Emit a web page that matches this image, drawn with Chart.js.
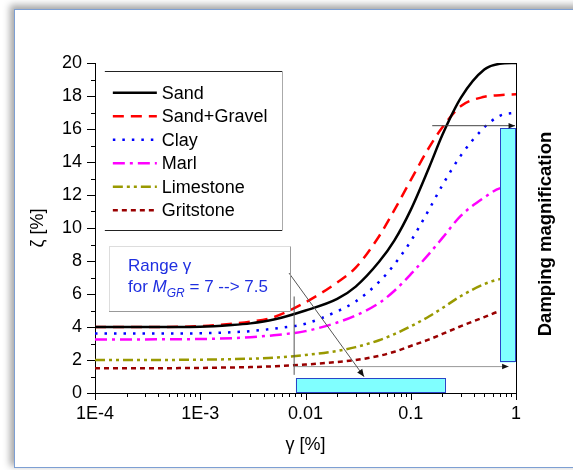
<!DOCTYPE html>
<html>
<head>
<meta charset="utf-8">
<script src="https://cdn.jsdelivr.net/npm/chart.js@4/dist/chart.umd.min.js"></script>
<style>
html, body { margin: 0; padding: 0; background: #fff; overflow: hidden; }
#frame { position: absolute; left: 14px; top: 9px; width: 620px; height: 457px;
         border: 1px solid #7d9fd3; border-right: none;
         box-shadow: -3px -3px 7px 1px rgba(0,0,0,0.35); background: #fff; }
#damping-graph { position: absolute; left: 0; top: 0; }
</style>
</head>
<body>
<div id="frame"></div>
<canvas id="damping-graph" width="573" height="470"></canvas>
<script>
// shear strain in %, sampled where the curves were read
const strainPoints = [1e-4, 3e-4, 1e-3, 2e-3, 3e-3, 5e-3, 0.01, 0.02, 0.03, 0.05, 0.07, 0.1, 0.15, 0.2, 0.3, 0.5, 0.7, 1]

const soilNames = ["Sand", "Sand+Gravel", "Clay", "Marl", "Limestone", "Gritstone"]
const sand      = [4.0, 4.0, 4.02, 4.12, 4.22, 4.45, 5.0, 5.7, 6.45, 7.95, 9.25, 11.1, 13.7, 15.65, 17.9, 19.6, 19.95, 20.0]
const sandGravel= [4.0, 4.0, 4.05, 4.2, 4.32, 4.6, 5.5, 6.7, 7.6, 9.5, 11.1, 12.9, 14.9, 16.1, 17.4, 17.95, 18.05, 18.1]
const clay      = [3.6, 3.6, 3.62, 3.68, 3.75, 3.9, 4.2, 4.95, 5.55, 6.73, 7.8, 9.2, 11.15, 12.6, 14.4, 16.1, 16.8, 17.0]
const marl      = [3.25, 3.25, 3.27, 3.32, 3.38, 3.5, 3.75, 4.27, 4.7, 5.45, 6.2, 7.2, 8.45, 9.4, 10.75, 11.85, 12.4, 12.5]
const limestone = [2.0, 2.0, 2.02, 2.05, 2.08, 2.14, 2.3, 2.55, 2.78, 3.2, 3.57, 4.04, 4.65, 5.15, 5.88, 6.6, 6.9, 7.0]
const gritstone = [1.5, 1.5, 1.52, 1.55, 1.57, 1.62, 1.72, 1.88, 2.0, 2.25, 2.5, 2.85, 3.25, 3.58, 4.05, 4.6, 4.95, 5.05]

const xTickValues = [1e-4, 1e-3, 0.01, 0.1, 1]
const xTickLabels = ["1E-4", "1E-3", "0.01", "0.1", "1"]
const yTickValues = [0, 2, 4, 6, 8, 10, 12, 14, 16, 18, 20]

// annotation boxes, in data units
const legendBox = {x0: 1.24e-4, x1: 0.006, y0: 9.85, y1: 19.5}
const rangeBox = {x0: 1.36e-4, x1: 0.00713, y0: 4.95, y1: 8.88}
const strainBar = {x0: 0.0081, x1: 0.211, y0: 0, y1: 0.91}
const dampingBar = {x0: 0.705, x1: 0.978, y0: 1.85, y1: 16.06}

const FONT = "'Liberation Sans', Arial, sans-serif"
Chart.defaults.font.family = FONT
Chart.defaults.color = '#000'

function series(values) {
    return values.map((v, i) => ({x: strainPoints[i], y: v}))
}

function line(ctx, x0, y0, x1, y1) {
    ctx.beginPath()
    ctx.moveTo(x0, y0)
    ctx.lineTo(x1, y1)
    ctx.stroke()
}

function arrow(ctx, x0, y0, x1, y1, size) {
    line(ctx, x0, y0, x1, y1)
    const a = Math.atan2(y1 - y0, x1 - x0)
    ctx.beginPath()
    ctx.moveTo(x1, y1)
    ctx.lineTo(x1 - size * Math.cos(a - 0.4), y1 - size * Math.sin(a - 0.4))
    ctx.lineTo(x1 - size * Math.cos(a + 0.4), y1 - size * Math.sin(a + 0.4))
    ctx.closePath()
    ctx.fill()
}

const overlay = {
    id: 'overlay',
    afterDatasetsDraw(chart) {
        const {ctx, chartArea: area, scales: {x, y}} = chart
        const px = v => x.getPixelForValue(v)
        const py = v => y.getPixelForValue(v)
        ctx.save()
        ctx.lineWidth = 1
        ctx.strokeStyle = '#000'

        // tick marks, outside
        for (let v = 0; v <= 20; v++) {
            const len = v % 2 === 0 ? 8 : 4
            line(ctx, area.left - len, Math.round(py(v)) + 0.5, area.left, Math.round(py(v)) + 0.5)
        }
        for (let e = -4; e < 0; e++) {
            for (let m = 1; m <= 10; m++) {
                const xv = m * Math.pow(10, e)
                const len = m === 1 || m === 10 ? 7 : 4
                const xp = Math.round(px(xv)) + 0.5
                line(ctx, xp, area.bottom, xp, area.bottom + len)
            }
        }
        // right frame line at gamma = 1
        line(ctx, Math.round(px(1)) + 0.5, py(0), Math.round(px(1)) + 0.5, py(20))

        // cyan bars
        ctx.fillStyle = '#80ffff'
        ctx.strokeStyle = '#2a44c8'
        for (const b of [strainBar, dampingBar]) {
            const l = px(b.x0), r = px(b.x1), t = py(b.y1), btm = py(b.y0)
            ctx.fillRect(l, t, r - l, btm - t)
            ctx.strokeRect(Math.round(l) + 0.5, Math.round(t) + 0.5, Math.round(r - l), Math.round(btm - t) - 1)
        }

        // guide lines and arrows
        ctx.fillStyle = '#111'
        ctx.strokeStyle = '#444'
        arrow(ctx, px(0.16), py(16.2), px(1) - 1, py(16.2), 7)
        ctx.strokeStyle = '#999'
        arrow(ctx, px(0.0078), py(1.6), px(0.85), py(1.6), 7)
        ctx.strokeStyle = '#555'
        line(ctx, px(0.0078), py(5.85), px(0.0078), py(1.1))
        arrow(ctx, px(0.00697), py(7.27), px(0.036), py(0.99), 8)

        // legend
        const lb = {left: px(legendBox.x0), right: px(legendBox.x1), top: py(legendBox.y1), bottom: py(legendBox.y0)}
        ctx.fillStyle = '#fff'
        ctx.fillRect(lb.left, lb.top, lb.right - lb.left, lb.bottom - lb.top)
        ctx.strokeStyle = '#222'
        line(ctx, lb.left, Math.round(lb.top) + 0.5, lb.right, Math.round(lb.top) + 0.5)
        line(ctx, lb.left, Math.round(lb.bottom) + 0.5, lb.right, Math.round(lb.bottom) + 0.5)
        ctx.strokeStyle = '#aaa'
        line(ctx, Math.round(lb.right) + 0.5, lb.top, Math.round(lb.right) + 0.5, lb.bottom)
        ctx.font = '18px ' + FONT
        ctx.textBaseline = 'middle'
        soilNames.forEach((name, i) => {
            const ds = chart.data.datasets[i]
            const ry = lb.top + 21.5 + i * 23.5
            ctx.strokeStyle = ds.borderColor
            ctx.lineWidth = ds.borderWidth
            ctx.setLineDash(ds.borderDash || [])
            line(ctx, lb.left + 8, ry, lb.left + 52, ry)
            ctx.setLineDash([])
            ctx.fillStyle = '#000'
            ctx.fillText(name, lb.left + 57, ry + 1)
        })
        ctx.lineWidth = 1

        // range text box
        const rb = {left: px(rangeBox.x0), right: px(rangeBox.x1), top: py(rangeBox.y1), bottom: py(rangeBox.y0)}
        ctx.strokeStyle = '#ddd'
        line(ctx, rb.left, Math.round(rb.top) + 0.5, rb.right, Math.round(rb.top) + 0.5)
        line(ctx, Math.round(rb.left) + 0.5, rb.top, Math.round(rb.left) + 0.5, rb.bottom)
        ctx.strokeStyle = '#999'
        line(ctx, Math.round(rb.right) + 0.5, rb.top, Math.round(rb.right) + 0.5, rb.bottom)
        line(ctx, rb.left, Math.round(rb.bottom) + 0.5, rb.right, Math.round(rb.bottom) + 0.5)
        ctx.fillStyle = '#1f2fe0'
        const tx = rb.left + 19
        ctx.font = '17px ' + FONT
        ctx.fillText('Range γ', tx, rb.top + 20)
        let cx = tx
        const ly = rb.top + 41
        ctx.fillText('for ', cx, ly); cx += ctx.measureText('for ').width
        ctx.font = 'italic 17px ' + FONT
        ctx.fillText('M', cx, ly); cx += ctx.measureText('M').width
        ctx.font = 'italic 12px ' + FONT
        ctx.fillText('GR', cx, ly + 6); cx += ctx.measureText('GR').width
        ctx.font = '17px ' + FONT
        ctx.fillText(' = 7 --> 7.5', cx, ly)

        // side label
        ctx.fillStyle = '#000'
        ctx.font = 'bold 18.5px ' + FONT
        ctx.textAlign = 'center'
        ctx.translate(area.right + 30, (area.top + area.bottom) / 2 + 6)
        ctx.rotate(-Math.PI / 2)
        ctx.fillText('Damping magnification', 0, 0)
        ctx.restore()
    }
}

const palette = ['#000000', '#ff0000', '#0000ff', '#ff00ff', '#999900', '#990000']
const dashes = [[], [11, 7], [2.5, 7], [12, 5, 3, 5], [10, 4, 3, 4, 3, 4], [5, 4]]
const allSeries = [sand, sandGravel, clay, marl, limestone, gritstone]

new Chart(document.getElementById('damping-graph'), {
    type: 'line',
    data: {
        datasets: allSeries.map((values, i) => ({
            label: soilNames[i],
            data: series(values),
            borderColor: palette[i],
            borderDash: dashes[i],
            borderWidth: 2.5,
            pointRadius: 0,
            fill: false,
            cubicInterpolationMode: 'monotone'
        }))
    },
    options: {
        responsive: false,
        animation: false,
        layout: {padding: {left: 0, right: 57, top: 63, bottom: 0}},
        plugins: {legend: {display: false}, tooltip: {enabled: false}},
        scales: {
            x: {
                type: 'logarithmic', min: 1e-4, max: 1,
                afterBuildTicks: s => { s.ticks = xTickValues.map(v => ({value: v})) },
                afterFit: s => { s.height = 77 },
                grid: {display: false, drawTicks: false},
                border: {display: true, color: '#000', width: 1},
                ticks: {
                    callback: (v, i) => xTickLabels[i],
                    font: {size: 18}, padding: 10, maxRotation: 0, autoSkip: false
                },
                title: {display: true, text: 'γ [%]', font: {size: 18}, padding: {top: 0, bottom: 14}}
            },
            y: {
                min: 0, max: 20,
                afterBuildTicks: s => { s.ticks = yTickValues.map(v => ({value: v})) },
                afterFit: s => { s.width = 95 },
                grid: {display: false, drawTicks: false},
                border: {display: true, color: '#000', width: 1},
                ticks: {font: {size: 18}, padding: 13, autoSkip: false},
                title: {display: true, text: 'ζ [%]', font: {size: 18}, padding: {top: 27, bottom: 0}}
            }
        }
    },
    plugins: [overlay]
})
</script>
</body>
</html>
